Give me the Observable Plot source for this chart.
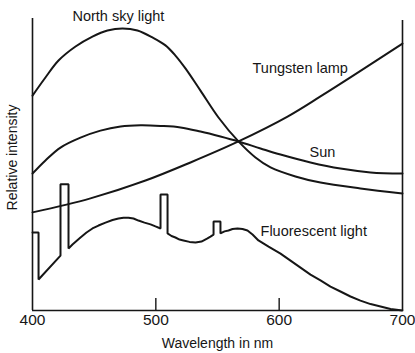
<!DOCTYPE html>
<html>
<head>
<meta charset="utf-8">
<script src="https://cdn.jsdelivr.net/npm/d3@7"></script>
<script src="https://cdn.jsdelivr.net/npm/@observablehq/plot@0.6"></script>
<style>
  html, body { margin: 0; padding: 0; background: #fff; }
  #chart svg { display: block; }
</style>
</head>
<body>
<div id="chart"></div>
<script>
// Wavelength (nm) and relative intensity (0–100)
const northWl  = [400, 410.5, 421.1, 434.9, 448.6, 460.8, 473.0, 485.1, 497.3, 507.8, 515.9, 524.0, 536.2, 550.8, 567.0, 580.8, 593.0, 613.2, 633.5, 665.9, 700];
const northVal = [73.6, 79.8, 85.6, 90.4, 93.8, 95.9, 96.6, 95.9, 93.5, 90.8, 87.3, 82.9, 75.3, 66.1, 57.9, 52.4, 49.0, 45.9, 43.8, 41.8, 40.1];

const sunWl  = [400, 410.5, 422.7, 438.9, 455.1, 471.4, 487.6, 503.8, 520.0, 536.2, 552.4, 567.0, 584.9, 601.1, 625.4, 649.7, 674.1, 700];
const sunVal = [46.9, 51.4, 55.8, 59.2, 61.6, 63.0, 63.4, 63.2, 62.7, 61.3, 59.6, 57.9, 55.5, 53.4, 50.7, 48.6, 47.3, 46.9];

const tungWl  = [400, 447.0, 491.6, 528.1, 567.0, 606.8, 633.5, 660.3, 700];
const tungVal = [33.6, 38.4, 44.5, 50.7, 57.9, 66.4, 73.3, 80.5, 91.4];

const fluoWl  = [400, 404.9, 404.9, 422.7, 422.7, 429.2, 429.2, 432.4, 438.9, 443.8, 448.6, 453.5, 459.2, 464.9, 469.7, 473.8, 477.8, 481.9, 485.9, 490.8, 495.7, 499.7, 503.8, 503.8, 509.5, 509.5, 512.7, 515.9, 519.2, 522.4, 527.3, 532.2, 537.0, 541.9, 544.3, 546.8, 546.8, 552.4, 552.4, 555.7, 558.9, 562.2, 566.2, 570.3, 574.3, 578.4, 583.2, 591.4, 601.1, 609.2, 617.3, 625.4, 633.5, 641.6, 649.7, 657.8, 665.9, 674.1, 682.2, 690.3, 700];
const fluoVal = [26.7, 26.7, 10.6, 18.8, 43.2, 43.2, 21.2, 22.6, 25.0, 26.7, 28.1, 29.1, 30.1, 31.0, 31.5, 31.8, 31.8, 31.5, 30.8, 30.1, 29.5, 28.8, 28.1, 39.7, 39.7, 26.4, 25.5, 25.0, 24.3, 24.0, 23.5, 23.3, 23.6, 24.7, 25.3, 26.0, 30.5, 30.5, 26.4, 27.1, 27.4, 27.9, 28.1, 27.9, 27.4, 26.0, 24.0, 21.9, 19.5, 17.1, 14.7, 12.3, 10.3, 8.2, 6.5, 4.8, 3.4, 2.2, 1.4, 0.5, 0];

const xTicks = [400, 500, 600, 700];
const innerTicks = [500, 600];

const labels = [
  {text: "North sky light", wl: 432.4, val: 100.7},
  {text: "Tungsten lamp", wl: 578.4, val: 82.9},
  {text: "Sun", wl: 624.6, val: 54.1},
  {text: "Fluorescent light", wl: 584.9, val: 27.1}
];

const toRows = (wl, val) => wl.map((w, i) => ({wl: w, val: val[i]}));
const north = toRows(northWl, northVal);
const sun = toRows(sunWl, sunVal);
const tung = toRows(tungWl, tungVal);
const fluo = toRows(fluoWl, fluoVal);

const ink = "#161616";
const font = "'Liberation Sans', Arial, Helvetica, sans-serif";

const chart = Plot.plot({
  width: 415,
  height: 353,
  marginLeft: 32,
  marginRight: 13,
  marginTop: 18,
  marginBottom: 43,
  style: {fontFamily: font, background: "#fff", color: ink, overflow: "visible"},
  x: {domain: [400, 700]},
  y: {domain: [0, 100], axis: null},
  marks: [
    Plot.ruleX([400], {y1: 0, y2: 100, stroke: ink, strokeWidth: 1.6}),
    Plot.ruleX([700], {y1: 0, y2: 99.3, stroke: ink, strokeWidth: 1.6}),
    Plot.ruleY([0], {x1: 400, x2: 700, stroke: ink, strokeWidth: 1.6}),
    Plot.ruleX(innerTicks, {y1: 0, y2: 4.1, stroke: ink, strokeWidth: 1.4}),
    Plot.axisX({ticks: xTicks, tickSize: 0, tickPadding: 3, fontSize: 15.5, label: null, tickFormat: d => String(d), fill: ink}),
    Plot.line(north, {x: "wl", y: "val", curve: "catmull-rom", stroke: ink, strokeWidth: 2}),
    Plot.line(sun, {x: "wl", y: "val", curve: "catmull-rom", stroke: ink, strokeWidth: 2}),
    Plot.line(tung, {x: "wl", y: "val", curve: "catmull-rom", stroke: ink, strokeWidth: 2}),
    Plot.line(fluo, {x: "wl", y: "val", curve: "linear", stroke: ink, strokeWidth: 2, strokeLinejoin: "miter"}),
    Plot.text(labels, {x: "wl", y: "val", text: "text", textAnchor: "start", lineAnchor: "middle", fontSize: 14.5, fill: ink}),
    Plot.text(["Wavelength in nm"], {x: 550, y: -11.3, text: d => d, lineAnchor: "middle", fontSize: 14, fill: ink}),
    Plot.text(["Relative intensity"], {x: 383.8, y: 52.4, text: d => d, rotate: -90, lineAnchor: "middle", fontSize: 14, fill: ink})
  ]
});
document.getElementById("chart").appendChild(chart);
</script>
</body>
</html>
